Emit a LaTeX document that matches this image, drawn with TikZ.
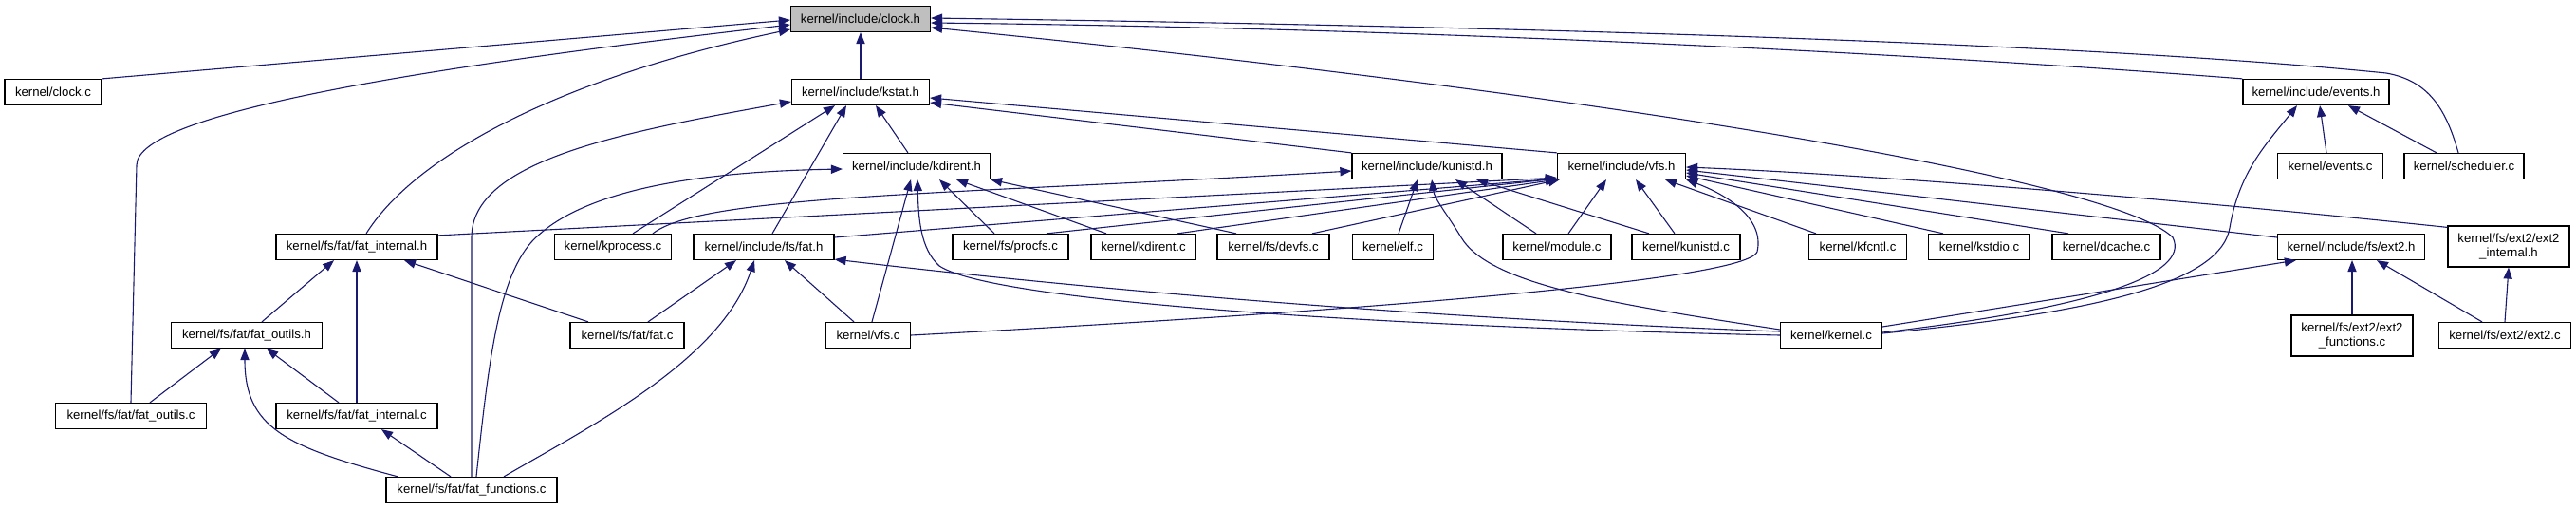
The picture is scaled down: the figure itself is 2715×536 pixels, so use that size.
\documentclass[tikz,border=0pt]{standalone}
\usepackage{fontspec}
\newfontfamily\lsans{Liberation Sans}
\usetikzlibrary{arrows.meta,calc}
\definecolor{midblue}{HTML}{191970}
\begin{document}
\begin{tikzpicture}[x=0.5pt,y=-0.5pt,
  box/.style={draw=black, line width=0.6pt, fill=white, inner sep=0pt, align=center,
    font=\lsans\fontsize{6.6}{7.5}\selectfont, minimum height=13.5pt},
  tall/.style={minimum height=21.5pt},
  dep/.style={draw=midblue, line width=0.55pt, -{Triangle[length=6pt,width=4.6pt]}}]
\useasboundingbox (0,0) rectangle (2715,536);
% row 1
\node[box, fill=black!25, minimum width=73.5pt] (clockh) at (907,20) {kernel/include/clock.h};
% row 2
\node[box, minimum width=51pt] (clockc) at (56,97) {kernel/clock.c};
\node[box, minimum width=72.5pt] (kstath) at (907,97) {kernel/include/kstat.h};
\node[box, minimum width=77pt] (eventsh) at (2441,97) {kernel/include/events.h};
% row 3
\node[box, minimum width=77.5pt] (kdirenth) at (966,175) {kernel/include/kdirent.h};
\node[box, minimum width=79pt] (kunistdh) at (1504,175) {kernel/include/kunistd.h};
\node[box, minimum width=67.5pt] (vfsh) at (1709,175) {kernel/include/vfs.h};
\node[box, minimum width=55.5pt] (eventsc) at (2456,175) {kernel/events.c};
\node[box, minimum width=63pt] (schedc) at (2597,175) {kernel/scheduler.c};
% row 4
\node[box, minimum width=85pt] (fatinth) at (376,260) {kernel/fs/fat/fat\_internal.h};
\node[box, minimum width=61.5pt] (kprocc) at (646,260) {kernel/kprocess.c};
\node[box, minimum width=74pt] (fath) at (805,260) {kernel/include/fs/fat.h};
\node[box, minimum width=61pt] (procfsc) at (1065,260) {kernel/fs/procfs.c};
\node[box, minimum width=55pt] (kdirentc) at (1205,260) {kernel/kdirent.c};
\node[box, minimum width=59pt] (devfsc) at (1342,260) {kernel/fs/devfs.c};
\node[box, minimum width=42.5pt] (elfc) at (1468,260) {kernel/elf.c};
\node[box, minimum width=57pt] (modulec) at (1641,260) {kernel/module.c};
\node[box, minimum width=57pt] (kunistdc) at (1777,260) {kernel/kunistd.c};
\node[box, minimum width=51.5pt] (kfcntlc) at (1958,260) {kernel/kfcntl.c};
\node[box, minimum width=53.5pt] (kstdioc) at (2086,260) {kernel/kstdio.c};
\node[box, minimum width=57pt] (dcachec) at (2220,260) {kernel/dcache.c};
\node[box, minimum width=77.5pt] (ext2h) at (2478,260) {kernel/include/fs/ext2.h};
\node[box, tall, minimum width=64pt] (ext2inth) at (2644,259.5) {kernel/fs/ext2/ext2\\\_internal.h};
% row 5
\node[box, minimum width=79.5pt] (fatoutilsh) at (260,353) {kernel/fs/fat/fat\_outils.h};
\node[box, minimum width=60pt] (fatc) at (661,353) {kernel/fs/fat/fat.c};
\node[box, minimum width=44.5pt] (vfsc) at (915,353) {kernel/vfs.c};
\node[box, minimum width=53.5pt] (kernelc) at (1930,353) {kernel/kernel.c};
\node[box, tall, minimum width=64pt] (ext2funcc) at (2479,353.5) {kernel/fs/ext2/ext2\\\_functions.c};
\node[box, minimum width=69.5pt] (ext2c) at (2640,353) {kernel/fs/ext2/ext2.c};
% row 6
\node[box, minimum width=79.5pt] (fatoutilsc) at (138,438) {kernel/fs/fat/fat\_outils.c};
\node[box, minimum width=85pt] (fatintc) at (376,438) {kernel/fs/fat/fat\_internal.c};
% row 7
\node[box, minimum width=90pt] (fatfuncc) at (497,516) {kernel/fs/fat/fat\_functions.c};

% edges into clock.h
\draw[dep] (clockc.north east) -- ($(clockh.west)+(0,1)$);
\draw[dep] (fatoutilsc.north) -- ++(6,-250) .. controls +(0,-55) and (450,70) .. ($(clockh.west)+(0,6)$);
\draw[dep] ($(fatinth.north)+(10,0)$) .. controls (440,160) and (600,80) .. ($(clockh.west)+(0,11)$);
\draw[dep] (kstath.north) -- (clockh.south);
\draw[dep] (eventsh.north west) .. controls (2000,55) and (1500,30) .. ($(clockh.east)+(0,4)$);
\draw[dep] ($(schedc.north)+(-6,0)$) .. controls (2578,115) and (2560,85) .. (2515,77) .. controls (2200,45) and (1600,28) .. ($(clockh.east)+(0,-1)$);
\draw[dep] ($(kernelc.east)+(0,-3)$) .. controls (2200,325) and (2310,290) .. (2290,250) .. controls (2230,190) and (1700,100) .. ($(clockh.east)+(0,9)$);
% edges into kstat.h
\draw[dep] ($(kprocc.north)+(21,0)$) -- ($(kstath.south)+(-27,0)$);
\draw[dep] (fatfuncc.north) -- (497,250) .. controls (497,170) and (650,140) .. ($(kstath.west)+(0,10)$);
\draw[dep] ($(fath.north)+(9,0)$) -- ($(kstath.south)+(-15,0)$);
\draw[dep] ($(kdirenth.north)+(-9,0)$) -- ($(kstath.south)+(16,0)$);
\draw[dep] (vfsh.north west) -- ($(kstath.east)+(0,6)$);
\draw[dep] (kunistdh.north west) -- ($(kstath.east)+(0,11)$);
% edges into kdirent.h
\draw[dep] ($(fatfuncc.north)+(5,0)$) .. controls (515,380) and (525,295) .. (560,255) .. controls (620,190) and (780,180) .. ($(kdirenth.west)+(0,3)$);
\draw[dep] ($(vfsc.north)+(4,0)$) -- ($(kdirenth.south)+(-6,0)$);
\draw[dep] (kernelc.west) .. controls (1500,345) and (1050,320) .. (990,280) .. controls (970,262) and (968,230) .. ($(kdirenth.south)+(1,0)$);
\draw[dep] ($(procfsc.north)+(-17,0)$) -- ($(kdirenth.south)+(24,0)$);
\draw[dep] ($(kdirentc.north)+(-39,0)$) -- ($(kdirenth.south)+(42,0)$);
\draw[dep] ($(devfsc.north)+(-39,0)$) -- (kdirenth.south east);
% edges into kunistd.h
\draw[dep] ($(kprocc.north)+(42,0)$) .. controls (740,205) and (1000,205) .. ($(kunistdh.west)+(0,5)$);
\draw[dep] ($(elfc.north)+(6,0)$) -- ($(kunistdh.south)+(-10,0)$);
\draw[dep] ($(kernelc.west)+(0,-6)$) .. controls (1700,320) and (1570,300) .. (1540,250) .. controls (1525,225) and (1512,210) .. ($(kunistdh.south)+(5,0)$);
\draw[dep] ($(modulec.north)+(-22,0)$) -- ($(kunistdh.south)+(30,0)$);
\draw[dep] ($(kunistdc.north)+(-39,0)$) -- ($(kunistdh.south)+(52,0)$);
% edges into vfs.h
\draw[dep] ($(fatinth.north east)+(0,2)$) -- ($(vfsh.south west)+(0,-2)$);
\draw[dep] ($(fath.east)+(0,-10)$) -- ($(vfsh.south west)+(0,-1)$);
\draw[dep] ($(procfsc.north)+(38,0)$) -- ($(vfsh.south west)+(0,-1)$);
\draw[dep] ($(kdirentc.north)+(36,0)$) -- (vfsh.south west);
\draw[dep] ($(devfsc.north)+(41,0)$) -- ($(vfsh.south west)+(3,0)$);
\draw[dep] ($(modulec.north)+(12,0)$) -- ($(vfsh.south)+(-16,0)$);
\draw[dep] ($(kunistdc.north)+(-12,0)$) -- ($(vfsh.south)+(15,0)$);
\draw[dep] ($(kfcntlc.north)+(-44,0)$) -- ($(vfsh.south)+(46,0)$);
\draw[dep] ($(kstdioc.north)+(-38,0)$) -- ($(vfsh.east)+(0,10)$);
\draw[dep] ($(dcachec.north)+(-40,0)$) -- ($(vfsh.east)+(0,7)$);
\draw[dep] ($(ext2h.west)+(0,-10)$) -- ($(vfsh.east)+(0,4)$);
\draw[dep] ($(ext2inth.north west)+(0,2)$) .. controls (2350,215) and (2000,185) .. ($(vfsh.east)+(0,1)$);
\draw[dep] (vfsc.east) .. controls (1300,335) and (1840,300) .. (1852,265) .. controls (1860,230) and (1820,205) .. (vfsh.south east);
% edges into fat_internal.h
\draw[dep] ($(fatoutilsh.north)+(16,0)$) -- ($(fatinth.south)+(-24,0)$);
\draw[dep] (fatintc.north) -- (fatinth.south);
\draw[dep] ($(fatc.north)+(-41,0)$) -- ($(fatinth.south)+(50,0)$);
% edges into fat_outils.h
\draw[dep] ($(fatoutilsc.north)+(20,0)$) -- ($(fatoutilsh.south)+(-27,0)$);
\draw[dep] ($(fatfuncc.north west)+(13,0)$) .. controls (300,470) and (258,450) .. ($(fatoutilsh.south)+(-2,0)$);
\draw[dep] ($(fatintc.north)+(-19,0)$) -- ($(fatoutilsh.south)+(21,0)$);
% edge into fat_internal.c
\draw[dep] ($(fatfuncc.north)+(-22,0)$) -- ($(fatintc.south)+(26,0)$);
% edges into fat.h
\draw[dep] ($(fatc.north)+(22,0)$) -- ($(fath.south)+(-29,0)$);
\draw[dep] ($(fatfuncc.north)+(34,0)$) .. controls (620,450) and (760,380) .. ($(fath.south)+(-10,0)$);
\draw[dep] ($(vfsc.north)+(-15,0)$) -- ($(fath.south)+(22,0)$);
\draw[dep] ($(kernelc.west)+(0,-4)$) .. controls (1500,335) and (1150,305) .. ($(fath.south east)+(0,-1)$);
% edges into events.h
\draw[dep] ($(kernelc.east)+(0,-2)$) .. controls (2200,330) and (2340,300) .. (2350,240) .. controls (2360,180) and (2390,150) .. ($(eventsh.south)+(-20,0)$);
\draw[dep] ($(eventsc.north)+(-4,0)$) -- ($(eventsh.south)+(4,0)$);
\draw[dep] ($(schedc.north)+(-29,0)$) -- ($(eventsh.south)+(34,0)$);
% edges into ext2.h and ext2_internal.h
\draw[dep] ($(kernelc.east)+(0,-9)$) -- ($(ext2h.south west)+(20,0)$);
\draw[dep] (ext2funcc.north) -- (ext2funcc.north |- ext2h.south);
\draw[dep] ($(ext2c.north)+(-24,0)$) -- ($(ext2h.south)+(27,0)$);
\draw[dep] (ext2c.north) -- (ext2inth.south);
\end{tikzpicture}
\end{document}
